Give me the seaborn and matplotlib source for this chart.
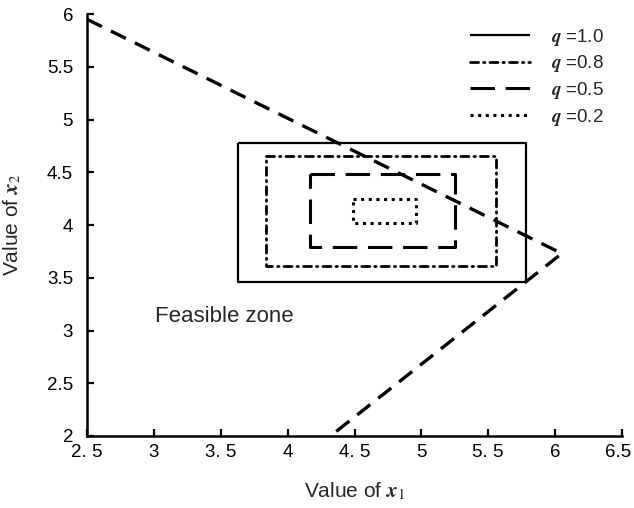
import matplotlib
matplotlib.use("Agg")
import matplotlib.pyplot as plt
import matplotlib.transforms as mtransforms
import seaborn as sns
import pandas as pd

# ---- data ----
q_levels = ["1.0", "0.8", "0.5", "0.2"]
rect_x_min = [3.63, 3.84, 4.17, 4.49]
rect_x_max = [5.78, 5.56, 5.25, 4.96]
rect_y_min = [3.46, 3.61, 3.79, 4.02]
rect_y_max = [4.78, 4.65, 4.48, 4.25]

boundary_x = [2.5, 6.05, 4.32]
boundary_y = [5.95, 3.73, 2.0]

x_ticks = [2.5, 3.0, 3.5, 4.0, 4.5, 5.0, 5.5, 6.0, 6.5]
x_tick_labels = ["2. 5", "3", "3. 5", "4", "4. 5", "5", "5. 5", "6", "6.5"]
y_ticks = [2.0, 2.5, 3.0, 3.5, 4.0, 4.5, 5.0, 5.5, 6.0]
y_tick_labels = ["2", "2.5", "3", "3.5", "4", "4.5", "5", "5.5", "6"]

sns.set_style("ticks")
plt.rcParams["font.family"] = ["Liberation Sans", "DejaVu Sans"]
plt.rcParams["mathtext.fontset"] = "stix"

fig = plt.figure(figsize=(6.34, 5.08), dpi=100)
ax = fig.add_axes([87 / 634, 1 - 436 / 508, 535 / 634, 422 / 508])

styles = [
    dict(linestyle="-", lw=1.6, dash_capstyle="butt"),
    dict(linestyle=(0, (2.9, 1.8, 0.5, 1.8)), lw=2.0, dash_capstyle="round"),
    dict(linestyle=(0, (8, 3.5)), lw=2.2, dash_capstyle="butt"),
    dict(linestyle=(0, (1.0, 1.5)), lw=2.2, dash_capstyle="butt"),
]

rows = []
for i, q in enumerate(q_levels):
    xs = [rect_x_min[i], rect_x_max[i], rect_x_max[i], rect_x_min[i], rect_x_min[i]]
    ys = [rect_y_max[i], rect_y_max[i], rect_y_min[i], rect_y_min[i], rect_y_max[i]]
    for k, (xv, yv) in enumerate(zip(xs, ys)):
        rows.append(dict(q=q, order=k, x=xv, y=yv))
df = pd.DataFrame(rows)

for i, q in enumerate(q_levels):
    sub = df[df.q == q]
    sns.lineplot(data=sub, x="x", y="y", sort=False, estimator=None, ax=ax,
                 color="black", label=r"$\mathbfit{q}$ =" + q,
                 solid_capstyle="butt", **styles[i])

bdf = pd.DataFrame(dict(x=boundary_x, y=boundary_y))
sns.lineplot(data=bdf, x="x", y="y", sort=False, estimator=None, ax=ax,
             color="black", lw=2.4, linestyle=(0, (5, 3)), legend=False)

ax.text(3.005, 3.08, "Feasible zone", fontsize=16, va="baseline", ha="left")

ax.set_xlim(2.5, 6.5)
ax.set_ylim(2, 6)
ax.set_xticks(x_ticks)
ax.set_xticklabels(x_tick_labels)
ax.set_yticks(y_ticks)
ax.set_yticklabels(y_tick_labels)
ax.tick_params(direction="in", length=5, width=1.6, colors="black")
ax.tick_params(axis="x", pad=6, labelsize=13.5)
ax.tick_params(axis="y", pad=10, labelsize=13.5)
for s in ["top", "right"]:
    ax.spines[s].set_visible(False)
for s in ["left", "bottom"]:
    ax.spines[s].set_linewidth(1.8)
    ax.spines[s].set_color("black")

# nudge the last x tick label slightly left so it stays inside the canvas
last = ax.get_xticklabels()[-1]
last.set_transform(last.get_transform() +
                   mtransforms.ScaledTranslation(-4 / 100, 0, fig.dpi_scale_trans))

ax.set_xlabel(r"Value of $\mathbfit{x}_{1}$", fontsize=15, labelpad=14)
ax.set_ylabel(r"Value of $\mathbfit{x}_{2}$", fontsize=15)
ax.yaxis.set_label_coords(-0.12, 0.50)

leg = ax.legend(loc="upper left", bbox_to_anchor=(0.685, 1.01), frameon=False,
                fontsize=13.5, handlelength=3.2, handletextpad=1.1, labelspacing=0.3)

fig.savefig("out.png", dpi=100)
